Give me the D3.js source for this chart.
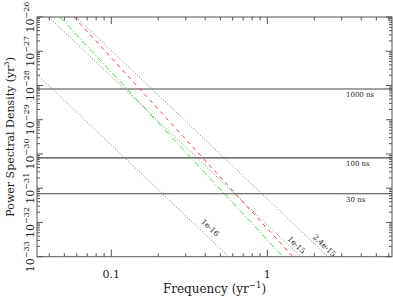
<!DOCTYPE html>
<html>
<head>
<meta charset="utf-8">
<script src="https://cdn.jsdelivr.net/npm/d3@7"></script>
<style>
  body { margin: 0; background: #fff; }
  svg { display: block; font-family: "DejaVu Serif", "Liberation Serif", serif; }
</style>
</head>
<body>
<div id="chart"></div>
<script>
// ---- data ----
const xDomain = [0.0334, 6.3];              // yr^-1
const yDomain = [1e-33, 1e-26];             // yr^3
const yDecades = [-33, -32, -31, -30, -29, -28, -27, -26];
const xMajor = [0.1, 1];
const xLabels = ["0.1", "1"];

// white-noise levels
const wnLabels = ["1000 ns", "100 ns", "30 ns"];
const wnLevels = [7.9e-29, 7.7e-31, 6.9e-32];

// GW background lines (dotted), end points [f, P]
const gwLabels = ["1e-16", "1e-15", "2.4e-15"];
const gwStart = [[0.0334, 2.1e-28], [0.0397, 1e-26], [0.0595, 1e-26]];
const gwEnd = [[0.565, 1e-33], [1.64, 1e-33], [2.45, 1e-33]];
const gwLabelAt = [7e-33, 2.2e-33, 2.1e-33];   // P where each label sits

// coloured model lines, end points [f, P]
const redStart = [0.0577, 1e-26], redEnd = [1.46, 1e-33];
const greenStart = [0.0469, 1e-26], greenEnd = [1.26, 1e-33];

// ---- layout ----
const W = 393, H = 297;
const m = { top: 17, right: 1, bottom: 40.3, left: 37 };
const pw = W - m.left - m.right, ph = H - m.top - m.bottom;

const svg = d3.select("#chart").append("svg")
  .attr("width", W).attr("height", H);

const g = svg.append("g").attr("transform", `translate(${m.left},${m.top})`);

const x = d3.scaleLog().domain(xDomain).range([0, pw]);
const y = d3.scaleLog().domain(yDomain).range([ph, 0]);

svg.append("defs").append("clipPath").attr("id", "clip")
  .append("rect").attr("width", pw).attr("height", ph);

// ---- ticks ----
const xMinor = [];
[0.01, 0.1, 1].forEach(d => { for (let k = 2; k <= 9; k++) { const v = d * k; if (v > xDomain[0] && v < xDomain[1]) xMinor.push(v); } });
const yMinor = [];
yDecades.slice(0, -1).forEach(e => { for (let k = 2; k <= 9; k++) yMinor.push(k * Math.pow(10, e)); });

const tickColor = "#555";
const ticks = g.append("g").attr("stroke", tickColor).attr("stroke-width", 1);
function xt(vals, len) {
  vals.forEach(v => {
    ticks.append("line").attr("x1", x(v)).attr("x2", x(v)).attr("y1", ph).attr("y2", ph - len);
    ticks.append("line").attr("x1", x(v)).attr("x2", x(v)).attr("y1", 0).attr("y2", len);
  });
}
function yt(vals, len) {
  vals.forEach(v => {
    ticks.append("line").attr("y1", y(v)).attr("y2", y(v)).attr("x1", 0).attr("x2", len);
    ticks.append("line").attr("y1", y(v)).attr("y2", y(v)).attr("x1", pw).attr("x2", pw - len);
  });
}
xt(xMinor, 3.5); xt(xMajor, 7);
yt(yMinor, 3); yt(yDecades.map(e => Math.pow(10, e)), 6);

// ---- white noise lines ----
wnLevels.forEach((v, i) => {
  g.append("line").attr("x1", 0).attr("x2", pw).attr("y1", y(v)).attr("y2", y(v))
    .attr("stroke", "#444").attr("stroke-width", 1.2);
  g.append("text").attr("x", 309).attr("y", y(v) + 8)
    .attr("font-size", 7).attr("fill", "#222").text(wnLabels[i]);
});

// ---- power-law lines ----
const line = d3.line().x(d => x(d[0])).y(d => y(d[1]));
const lines = g.append("g").attr("clip-path", "url(#clip)").attr("fill", "none");

gwStart.forEach((s, i) => {
  lines.append("path").attr("d", line([s, gwEnd[i]]))
    .attr("stroke", "#777").attr("stroke-width", 1).attr("stroke-dasharray", "1,2");
});
lines.append("path").attr("d", line([greenStart, greenEnd]))
  .attr("stroke", "#4e4").attr("stroke-width", 1).attr("stroke-dasharray", "6,2,1,2");
lines.append("path").attr("d", line([redStart, redEnd]))
  .attr("stroke", "#f44").attr("stroke-width", 1).attr("stroke-dasharray", "4,4");

// rotated labels just right of (below) each GW line
const labelDx = [12, 8, 8];
gwLabels.forEach((t, i) => {
  const s = gwStart[i], e = gwEnd[i];
  const P = gwLabelAt[i];
  const x0 = x(s[0]), y0 = y(s[1]), x1 = x(e[0]), y1 = y(e[1]);
  const fy = y(P);
  const fx = x0 + (fy - y0) / (y1 - y0) * (x1 - x0);
  const ang = Math.atan2(y1 - y0, x1 - x0) * 180 / Math.PI;
  g.append("text").attr("font-size", 7.5).attr("fill", "#222")
    .attr("text-anchor", "middle").attr("dominant-baseline", "central")
    .attr("transform", `translate(${fx + labelDx[i]},${fy}) rotate(${ang})`)
    .text(t);
});

// ---- frame ----
g.append("rect").attr("width", pw).attr("height", ph)
  .attr("fill", "none").attr("stroke", tickColor).attr("stroke-width", 1);

// ---- tick labels ----
xMajor.forEach((v, i) => {
  g.append("text").attr("x", x(v)).attr("y", ph + 21).attr("text-anchor", "middle")
    .attr("font-size", 11).attr("fill", "#222").text(xLabels[i]);
});
yDecades.forEach(e => {
  const t = g.append("text").attr("text-anchor", "middle").attr("fill", "#222")
    .attr("font-size", 11)
    .attr("transform", `translate(-3,${y(Math.pow(10, e))}) rotate(-90)`);
  t.append("tspan").text("10");
  t.append("tspan").attr("font-size", 8).attr("dy", -5).text("\u2212" + Math.abs(e));
});

// ---- axis titles ----
const xt2 = svg.append("text").attr("x", m.left + pw / 2).attr("y", 293)
  .attr("text-anchor", "middle").attr("font-size", 12).attr("fill", "#222");
xt2.append("tspan").text("Frequency (yr");
xt2.append("tspan").attr("font-size", 8.5).attr("dy", -5).text("\u22121");
xt2.append("tspan").attr("dy", 5).text(")");

const yt2 = svg.append("text").attr("text-anchor", "middle").attr("font-size", 11).attr("fill", "#222")
  .attr("transform", `translate(14,${m.top + ph / 2}) rotate(-90)`);
yt2.append("tspan").text("Power Spectral Density (yr");
yt2.append("tspan").attr("font-size", 8).attr("dy", -5).text("3");
yt2.append("tspan").attr("dy", 5).text(")");
</script>
</body>
</html>
